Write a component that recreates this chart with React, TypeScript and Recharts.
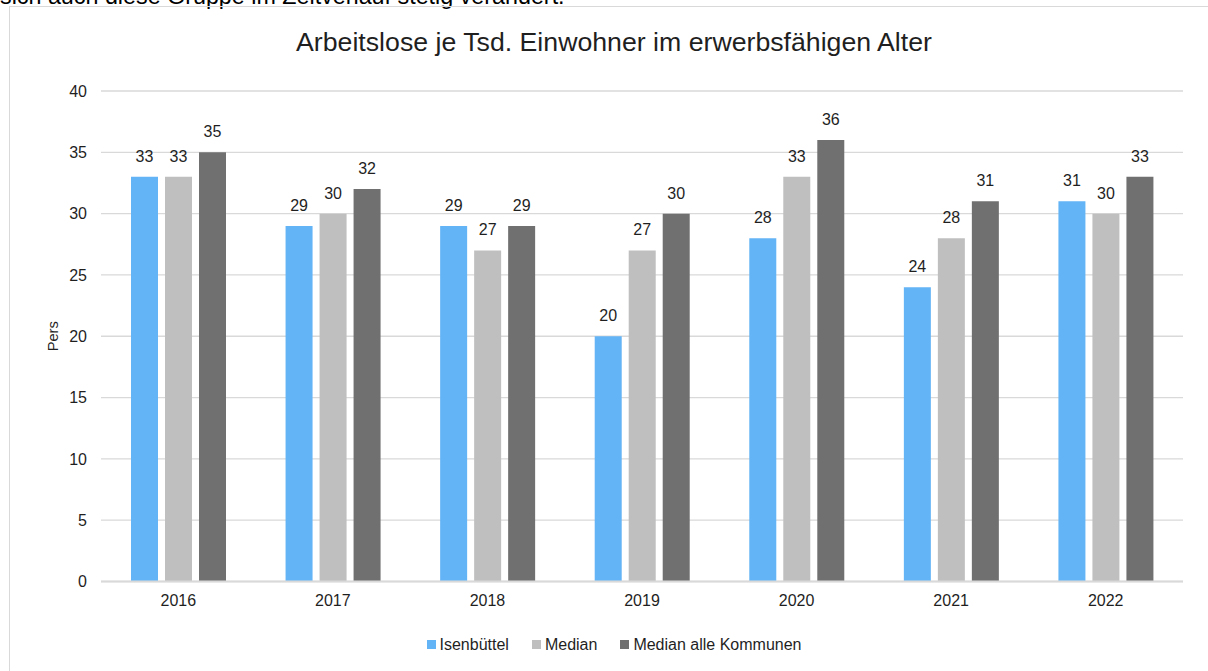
import React from 'react'
import {
  BarChart,
  Bar,
  XAxis,
  YAxis,
  CartesianGrid,
  Legend,
  LabelList,
} from 'recharts'

const years = ['2016', '2017', '2018', '2019', '2020', '2021', '2022']
const isenbuettel = [33, 29, 29, 20, 28, 24, 31]
const median = [33, 30, 27, 27, 33, 28, 30]
const medianAlle = [35, 32, 29, 30, 36, 31, 33]
const yTicks = [0, 5, 10, 15, 20, 25, 30, 35, 40]

const seriesNames = ['Isenbüttel', 'Median', 'Median alle Kommunen']
const seriesColors = ['#63b4f6', '#bfbfbf', '#707070']

const data = years.map((year, i) => ({
  year,
  isenbuettel: isenbuettel[i],
  median: median[i],
  medianAlle: medianAlle[i],
}))

const FONT = '"Liberation Sans", Arial, sans-serif'
const TEXT = '#1f1f1f'

const CHART_W = 1210
const CHART_H = 671

function PersLabel(props: any) {
  const vb = props.viewBox || {}
  const cx = 44
  const cy = (vb.y ?? 0) + (vb.height ?? 0) / 2
  return (
    <text
      x={cx}
      y={cy}
      transform={`rotate(-90, ${cx}, ${cy})`}
      textAnchor="middle"
      dominantBaseline="central"
      fill={TEXT}
      fontSize={14.7}
      fontFamily={FONT}
    >
      Pers
    </text>
  )
}

function LegendContent() {
  return (
    <div
      style={{
        display: 'flex',
        justifyContent: 'center',
        alignItems: 'center',
        height: 24,
        lineHeight: '24px',
        fontFamily: FONT,
        fontSize: 16,
        color: TEXT,
      }}
    >
      {seriesNames.map((name, i) => (
        <div
          key={name}
          style={{ display: 'flex', alignItems: 'center', marginRight: i < seriesNames.length - 1 ? 23 : 0 }}
        >
          <span style={{ width: 9, height: 9, background: seriesColors[i], marginRight: 4, display: 'inline-block' }} />
          <span>{name}</span>
        </div>
      ))}
    </div>
  )
}

export default function App() {
  return (
    <div
      style={{
        position: 'absolute',
        left: 0,
        top: 0,
        width: 1208,
        height: 671,
        overflow: 'hidden',
        background: '#fff',
        fontFamily: FONT,
      }}
    >
      {/* tail of the surrounding document text, cut by the screenshot */}
      <div
        style={{
          position: 'absolute',
          left: 0,
          top: -14.7,
          fontSize: 23.3,
          lineHeight: 1,
          whiteSpace: 'nowrap',
          color: '#000',
        }}
      >
        sich auch diese Gruppe im Zeitverlauf stetig verändert.
      </div>
      <div
        style={{
          position: 'absolute',
          left: 9,
          top: 6,
          width: CHART_W,
          height: 700,
          border: '1px solid #d9d9d9',
          boxSizing: 'border-box',
        }}
      />
      <div
        style={{
          position: 'absolute',
          left: 9,
          top: 29.4,
          width: CHART_W,
          textAlign: 'center',
          fontSize: 26.7,
          lineHeight: 1,
          color: TEXT,
          whiteSpace: 'nowrap',
        }}
      >
        Arbeitslose je Tsd. Einwohner im erwerbsfähigen Alter
      </div>
      <div style={{ position: 'absolute', left: 9, top: 0 }}>
        <BarChart
          width={CHART_W}
          height={CHART_H}
          data={data}
          margin={{ top: 91, right: 36, left: 32, bottom: 14.5 }}
          barSize={27}
          barGap={7}
        >
          <CartesianGrid vertical={false} stroke="#d9d9d9" strokeWidth={1.3} />
          <XAxis
            dataKey="year"
            height={51}
            tickLine={false}
            axisLine={{ stroke: '#d9d9d9', strokeWidth: 2 }}
            tickMargin={7}
            tick={{ fill: TEXT, fontSize: 16, fontFamily: FONT }}
          />
          <YAxis
            width={60}
            domain={[0, 40]}
            ticks={yTicks}
            interval={0}
            tickLine={false}
            axisLine={false}
            tickMargin={8}
            tick={{ fill: TEXT, fontSize: 16, fontFamily: FONT }}
            label={{ value: 'Pers', content: PersLabel }}
          />
          <Legend
            verticalAlign="bottom"
            align="center"
            content={LegendContent}
            wrapperStyle={{ left: 0, width: CHART_W }}
          />
          <Bar dataKey="isenbuettel" name={seriesNames[0]} fill={seriesColors[0]} isAnimationActive={false}>
            <LabelList dataKey="isenbuettel" position="top" offset={15} fill={TEXT} fontSize={16} fontFamily={FONT} />
          </Bar>
          <Bar dataKey="median" name={seriesNames[1]} fill={seriesColors[1]} isAnimationActive={false}>
            <LabelList dataKey="median" position="top" offset={15} fill={TEXT} fontSize={16} fontFamily={FONT} />
          </Bar>
          <Bar dataKey="medianAlle" name={seriesNames[2]} fill={seriesColors[2]} isAnimationActive={false}>
            <LabelList dataKey="medianAlle" position="top" offset={15} fill={TEXT} fontSize={16} fontFamily={FONT} />
          </Bar>
        </BarChart>
      </div>
    </div>
  )
}
